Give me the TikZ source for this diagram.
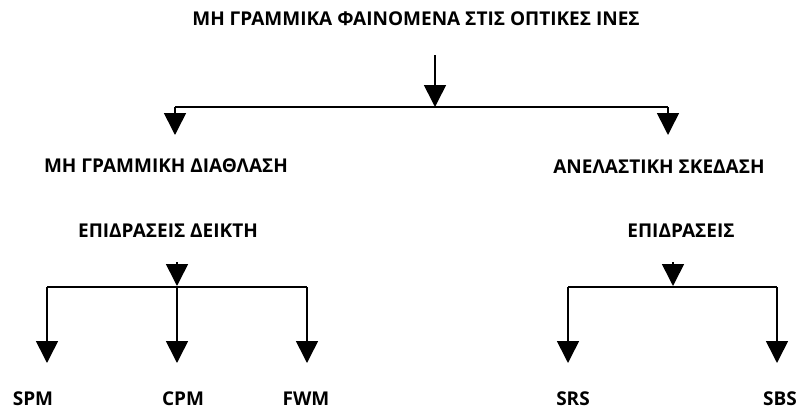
\documentclass[tikz,border=0pt]{standalone}
\usepackage{fontspec}
\setmainfont{Open Sans}
\usetikzlibrary{arrows.meta,positioning,calc}

\begin{document}
\begin{tikzpicture}[
    x=1pt, y=-1pt,
    lbl/.style={font=\bfseries\fontsize{19}{22}\selectfont, inner sep=0pt, anchor=base},
    line/.style={line width=1.6pt},
    arrow/.style={line, -{Triangle[width=22pt,length=22pt]}},
]
\useasboundingbox (0,0) rectangle (796,410);

% Title
\node[lbl] (title) at (416,25) {ΜΗ ΓΡΑΜΜΙΚΑ ΦΑΙΝΟΜΕΝΑ ΣΤΙΣ ΟΠΤΙΚΕΣ ΙΝΕΣ};

% Second level
\node[lbl] (refr) at (166,172) {ΜΗ ΓΡΑΜΜΙΚΗ ΔΙΑΘΛΑΣΗ};
\node[lbl] (scat) at (659,173) {ΑΝΕΛΑΣΤΙΚΗ ΣΚΕΔΑΣΗ};
\node[lbl] (idx) at (168,237) {ΕΠΙΔΡΑΣΕΙΣ ΔΕΙΚΤΗ};
\node[lbl] (eff) at (681,237) {ΕΠΙΔΡΑΣΕΙΣ};

% Bottom level
\node[lbl] (spm) at (33,405) {SPM};
\node[lbl] (cpm) at (183,405) {CPM};
\node[lbl] (fwm) at (306,405) {FWM};
\node[lbl] (srs) at (573,405) {SRS};
\node[lbl] (sbs) at (780,405) {SBS};

% Junctions
\coordinate (t0) at (435,55);
\coordinate (j0) at (435,107);
\coordinate (jl) at (175,107);
\coordinate (jr) at (668,107);
\coordinate (tl) at (175,135);
\coordinate (tr) at (668,135);

\coordinate (a0) at (177,262);
\coordinate (a1) at (177,286);
\coordinate (al) at (47,287);
\coordinate (ar) at (307,287);
\coordinate (b0) at (673,262);
\coordinate (b1) at (673,286);
\coordinate (bl) at (568,287);
\coordinate (br) at (777,287);

% Top tree
\draw[arrow] (t0) -- (j0);
\draw[line] (jl) -- (jr);
\draw[arrow] (jl) -- (tl);
\draw[arrow] (jr) -- (tr);

% Index effects
\draw[arrow] (a0) -- (a1);
\draw[line] (al) -- (ar);
\draw[arrow] (al) -- (al |- 0,363);
\draw[arrow] (a1) -- (a1 |- 0,363);
\draw[arrow] (ar) -- (ar |- 0,363);

% Scattering effects
\draw[arrow] (b0) -- (b1);
\draw[line] (bl) -- (br);
\draw[arrow] (bl) -- (bl |- 0,363);
\draw[arrow] (br) -- (br |- 0,363);

\end{tikzpicture}
\end{document}
